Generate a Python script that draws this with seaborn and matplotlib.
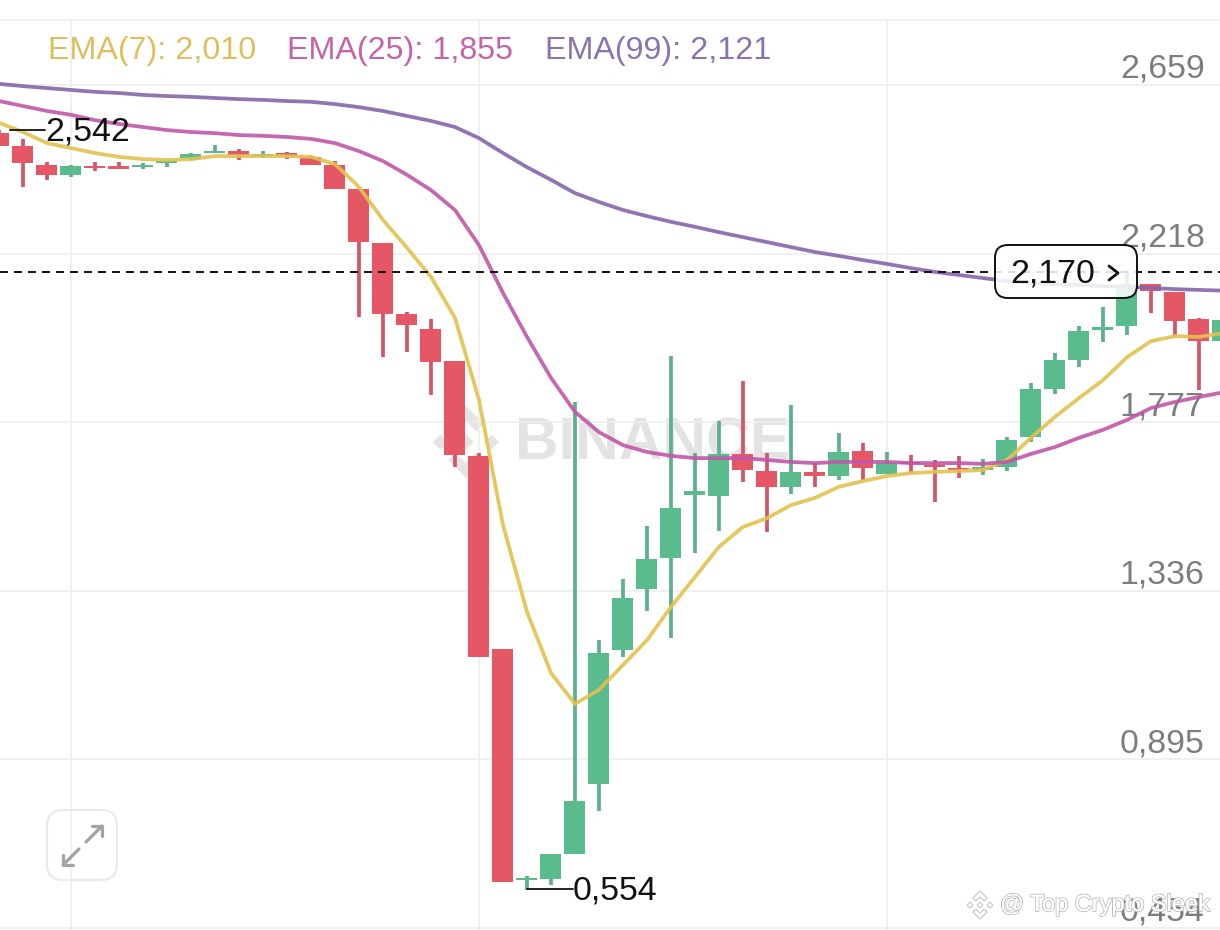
import numpy as np
import pandas as pd
import matplotlib
matplotlib.use("Agg")
import matplotlib.pyplot as plt
import matplotlib.patheffects as pe
from matplotlib.patches import FancyBboxPatch, Polygon
import seaborn as sns

opens = [2.533, 2.499, 2.450, 2.424, 2.447, 2.447, 2.444, 2.455, 2.465, 2.481, 2.486, 2.473, 2.481,
         2.471, 2.450, 2.387, 2.246, 2.060, 2.021, 1.937, 1.689, 1.184, 0.580, 0.582, 0.648, 0.831,
         1.181, 1.341, 1.422, 1.587, 1.584, 1.694, 1.649, 1.608, 1.647, 1.636, 1.702, 1.642, 1.673,
         1.665, 1.657, 1.652, 1.660, 1.738, 1.864, 1.940, 2.018, 2.029, 2.138, 2.118, 2.047, 1.989]
closes = [2.499, 2.455, 2.424, 2.447, 2.442, 2.439, 2.450, 2.460, 2.479, 2.486, 2.476, 2.479, 2.473,
          2.450, 2.387, 2.248, 2.060, 2.031, 1.934, 1.691, 1.163, 0.574, 0.585, 0.648, 0.786, 1.173,
          1.317, 1.419, 1.553, 1.597, 1.694, 1.652, 1.608, 1.647, 1.636, 1.699, 1.657, 1.670, 1.668,
          1.660, 1.652, 1.660, 1.730, 1.864, 1.940, 2.016, 2.026, 2.138, 2.120, 2.042, 1.989, 2.044]
highs = [2.542, 2.518, 2.458, 2.450, 2.458, 2.458, 2.455, 2.463, 2.481, 2.502, 2.492, 2.486, 2.484,
         2.473, 2.460, 2.387, 2.246, 2.065, 2.047, 1.937, 1.696, 1.184, 0.590, 0.648, 1.830, 1.207,
         1.367, 1.505, 1.950, 1.696, 1.780, 1.885, 1.696, 1.822, 1.670, 1.749, 1.723, 1.699, 1.691,
         1.678, 1.689, 1.681, 1.738, 1.880, 1.958, 2.029, 2.078, 2.175, 2.138, 2.118, 2.050, 2.044]
lows = [2.499, 2.392, 2.411, 2.418, 2.434, 2.439, 2.439, 2.444, 2.463, 2.481, 2.463, 2.468, 2.465,
        2.450, 2.387, 2.052, 1.947, 1.961, 1.848, 1.660, 1.163, 0.574, 0.554, 0.566, 0.648, 0.760,
        1.163, 1.283, 1.213, 1.435, 1.492, 1.621, 1.490, 1.589, 1.608, 1.626, 1.626, 1.642, 1.644,
        1.568, 1.631, 1.639, 1.649, 1.725, 1.851, 1.921, 1.987, 2.005, 2.063, 2.005, 1.861, 1.989]

ema7 = [2.560, 2.536, 2.507, 2.494, 2.481, 2.471, 2.465, 2.463, 2.465, 2.473, 2.473, 2.473, 2.473,
        2.471, 2.452, 2.392, 2.306, 2.233, 2.157, 2.050, 1.835, 1.508, 1.281, 1.121, 1.040, 1.077,
        1.142, 1.207, 1.294, 1.372, 1.451, 1.503, 1.526, 1.560, 1.579, 1.608, 1.623, 1.636, 1.644,
        1.647, 1.649, 1.652, 1.678, 1.736, 1.791, 1.840, 1.887, 1.947, 1.989, 2.002, 2.000, 2.010]
ema25 = [2.617, 2.604, 2.591, 2.581, 2.567, 2.557, 2.549, 2.541, 2.536, 2.533, 2.528, 2.526, 2.523,
         2.518, 2.507, 2.486, 2.460, 2.424, 2.384, 2.332, 2.240, 2.115, 2.000, 1.893, 1.804, 1.751,
         1.717, 1.699, 1.689, 1.683, 1.683, 1.683, 1.678, 1.673, 1.670, 1.673, 1.673, 1.673, 1.670,
         1.670, 1.670, 1.668, 1.673, 1.694, 1.712, 1.736, 1.757, 1.783, 1.814, 1.830, 1.843, 1.855]
ema99 = [2.662, 2.656, 2.651, 2.646, 2.641, 2.638, 2.633, 2.630, 2.628, 2.625, 2.622, 2.620, 2.617,
         2.615, 2.609, 2.601, 2.591, 2.578, 2.565, 2.549, 2.520, 2.481, 2.444, 2.411, 2.376, 2.353,
         2.332, 2.316, 2.301, 2.288, 2.274, 2.261, 2.248, 2.235, 2.222, 2.212, 2.201, 2.191, 2.180,
         2.170, 2.162, 2.154, 2.146, 2.141, 2.138, 2.136, 2.133, 2.131, 2.128, 2.125, 2.123, 2.121]

price_ticks = [0.454, 0.895, 1.336, 1.777, 2.218, 2.659]
price_labels = ["0,454", "0,895", "1,336", "1,777", "2,218", "2,659"]
grid_candles = [3, 20, 37]
last_price = 2.170
top_rule = 2.829

GREEN = "#5ABB8C"
RED = "#E55765"
GREEN_WICK = "#5DB08A"
RED_WICK = "#D2566A"
YELLOW = "#E3C14F"
PINK = "#C056A8"
PURPLE = "#8566AA"
GRID = "#EEEEEE"
TICK_GREY = "#7D7D7D"

sns.set_theme(style="white")
plt.rcParams["font.family"] = ["Liberation Sans", "DejaVu Sans"]

W, H = 1220, 930
fig = plt.figure(figsize=(W / 100, H / 100), dpi=100, facecolor="white")


def pixel_axes(zorder):
    # overlay in image pixels, for the decorations that are not data
    a = fig.add_axes([0, 0, 1, 1], zorder=zorder)
    a.set_xlim(0, W)
    a.set_ylim(H, 0)
    a.axis("off")
    return a


def binance_logo(a, cx, cy, r, **kw):
    top = [(0, 1), (0.5, 0.5), (0.29, 0.29), (0, 0.58), (-0.29, 0.29), (-0.5, 0.5)]
    pieces = [top, [(x, -y) for x, y in top]]
    for dx in (-0.71, 0, 0.71):
        pieces.append([(dx, 0.21), (dx + 0.21, 0), (dx, -0.21), (dx - 0.21, 0)])
    for piece in pieces:
        a.add_patch(Polygon([(cx + x * r, cy - y * r) for x, y in piece], closed=True, **kw))


back = pixel_axes(0)
binance_logo(back, 466, 442, 36, facecolor="#E4E4E4", edgecolor="none")
back.text(515, 444, "BINANCE", fontsize=43.5, fontweight="bold", color="#E3E3E3", va="center", ha="left")

ax = fig.add_axes([0, 0, 1, 1], zorder=1)
ax.patch.set_alpha(0)
ax.set_xlim(1 / 24, 1221 / 24)
ax.set_ylim(0.4487, 2.8813)

idx = np.arange(len(opens))
o = np.array(opens)
c = np.array(closes)
colors = [GREEN if c[i] >= o[i] else RED for i in idx]
wick_colors = [GREEN_WICK if c[i] >= o[i] else RED_WICK for i in idx]

ax.set_axisbelow(True)
ax.yaxis.tick_right()
ax.set_yticks(price_ticks)
ax.set_yticklabels(price_labels)
ax.set_xticks([])
ax.tick_params(axis="y", length=0, pad=-11, labelsize=24.4, labelcolor=TICK_GREY)
for lab in ax.get_yticklabels():
    lab.set_ha("right")
    lab.set_va("bottom")
ax.grid(axis="y", color=GRID, lw=1.2)
ax.axhline(top_rule, color=GRID, lw=1.2, zorder=0.5)
ax.vlines(grid_candles, 0.4487, top_rule, color=GRID, lw=1.2, zorder=0.5)
sns.despine(ax=ax, left=True, bottom=True, top=True, right=True)

# candles
ax.vlines(idx, lows, highs, colors=wick_colors, lw=2.7, zorder=2)
ax.bar(idx, np.abs(c - o), bottom=np.minimum(o, c), width=0.875, color=colors, linewidth=0, zorder=3)

# moving averages
ema_table = pd.DataFrame({"i": idx, "EMA(7)": ema7, "EMA(25)": ema25, "EMA(99)": ema99})
ema_long = ema_table.melt(id_vars="i", var_name="ema", value_name="price")
sns.lineplot(data=ema_long, x="i", y="price", hue="ema", estimator=None, ax=ax, legend=False, lw=2.7,
             alpha=0.9, zorder=4, palette={"EMA(7)": YELLOW, "EMA(25)": PINK, "EMA(99)": PURPLE})
ax.set_xlabel("")
ax.set_ylabel("")

ax.axhline(last_price, color="#111111", lw=1.4, dashes=(4.1, 3.1), zorder=4.5)

front = pixel_axes(2)

# ema readout
txt = 23.2
front.text(48, 51, "EMA(7): 2,010", fontsize=txt, color="#DDBF5C", va="center")
front.text(287, 51, "EMA(25): 1,855", fontsize=txt, color="#C662A8", va="center")
front.text(545, 51, "EMA(99): 2,121", fontsize=txt, color="#8B74AE", va="center")

# high and low markers
front.plot([10, 45], [130, 130], color="#111111", lw=1.3)
front.text(45, 132, "2,542", fontsize=24.4, color="#111111", va="center")
front.plot([527, 573], [889, 889], color="#111111", lw=1.3)
front.text(573, 891, "0,554", fontsize=24.4, color="#111111", va="center")

# last price box
front.add_patch(FancyBboxPatch((1007, 257), 118, 29, boxstyle="round,pad=12,rounding_size=13",
                               facecolor=(1, 1, 1, 0.86), edgecolor="#111111", lw=1.4))
front.text(1010, 274, "2,170", fontsize=24.4, color="#111111", va="center")
front.plot([1109, 1118, 1109], [266, 273, 280], color="#111111", lw=2)

# expand button
front.add_patch(FancyBboxPatch((61, 824), 42, 42, boxstyle="round,pad=14,rounding_size=16",
                               facecolor="none", edgecolor="#EAEAEA", lw=1.6))
for xs, ys in [([86, 102], [842, 826]), ([92, 102, 102], [826, 826, 836]),
               ([79, 63], [849, 865]), ([63, 63, 73], [855, 865, 865])]:
    front.plot(xs, ys, color="#A3A3A3", lw=2.3)

# repost watermark
binance_logo(front, 980, 905, 14, facecolor="white", edgecolor="#C4C4C4", lw=0.8)
front.text(1000, 905, "@ Top Crypto Sleek", fontsize=17, color="white", va="center",
           path_effects=[pe.withStroke(linewidth=1.3, foreground="#B5B5B5"), pe.Normal()])

fig.savefig("out.png", dpi=100)
